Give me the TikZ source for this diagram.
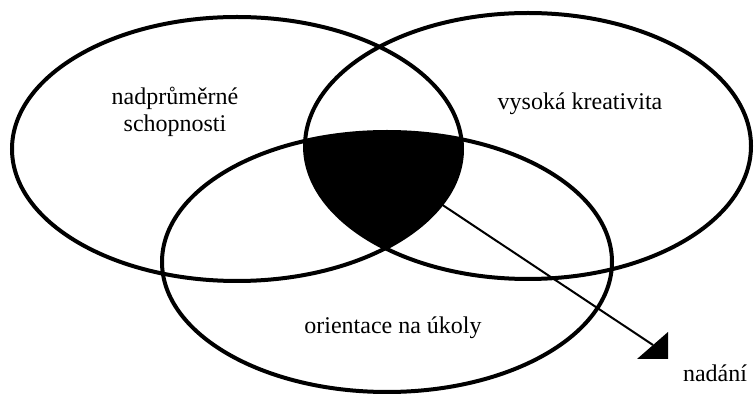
\documentclass[tikz,border=0pt]{standalone}
\usepackage{fontspec}
\setmainfont{Liberation Serif}
\usetikzlibrary{calc}
\tikzset{
	setline/.style={draw=black, line width=3pt},
	setlabel/.style={align=center, font=\fontsize{18}{20.5}\selectfont, inner sep=0pt},
	pointer/.style={draw=black, line width=1.5pt},
	pointerhead/.style={fill=black},
}

\begin{document}
\begin{tikzpicture}[x=0.75pt, y=0.75pt]
		\useasboundingbox (0,0) rectangle (754,396);
		% core of the three sets
		\begin{scope}
			\clip (237,247) ellipse [x radius=225, y radius=132];
			\clip (528,250) ellipse [x radius=223, y radius=133];
			\fill[black] (387,134) ellipse [x radius=225, y radius=130];
		\end{scope}
		\draw[setline] (237,247) ellipse [x radius=225, y radius=132];
		\draw[setline] (528,250) ellipse [x radius=223, y radius=133];
		\draw[setline] (387,134) ellipse [x radius=225, y radius=130];
		\node[setlabel] (ability) at (175,284) {nadprůměrné\\schopnosti};
		\node[setlabel] (creativity) at (580,292) {vysoká kreativita};
		\node[setlabel] (task) at (393,68) {orientace na úkoly};
		\node[setlabel] (gift) at (715,23) {nadání};
		\coordinate (core) at (420,206);
		\coordinate (tip) at (653,51);
		\draw[pointer] (core) -- (tip);
		\fill[pointerhead] (637,37) -- (668,64) -- (668,37) -- cycle;
	\end{tikzpicture}
\end{document}
